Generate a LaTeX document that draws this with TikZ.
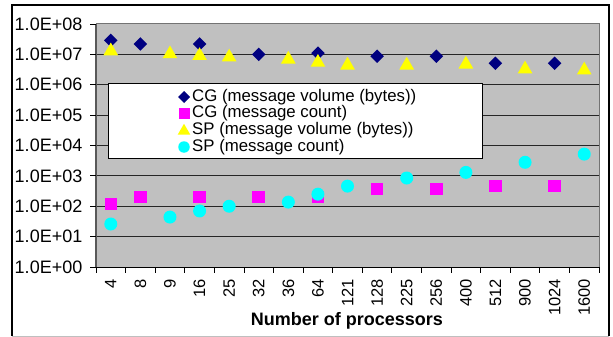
\documentclass[tikz,border=0pt]{standalone}
\usepackage{fontspec}
\setmainfont{Liberation Sans}
\usetikzlibrary{shapes.geometric}
\definecolor{plotgray}{HTML}{C0C0C0}
\definecolor{cgnavy}{HTML}{000080}
\definecolor{cgpink}{HTML}{FF00FF}
\definecolor{spyellow}{HTML}{FFFF00}
\definecolor{spcyan}{HTML}{00FFFF}
\tikzset{
  gridline/.style={draw=black!85,line width=0.9pt},
  tickline/.style={draw=black,line width=0.9pt},
  mk/.style={inner sep=0pt,outer sep=0pt,draw=none},
  cgvol/.style={mk,diamond,fill=cgnavy,minimum width=13.5pt,minimum height=13.5pt},
  cgcnt/.style={mk,rectangle,fill=cgpink,minimum size=12.5pt},
  spvol/.style={mk,regular polygon,regular polygon sides=3,fill=spyellow,minimum size=17pt},
  spcnt/.style={mk,circle,fill=spcyan,minimum size=13pt},
  ylab/.style={anchor=east,inner sep=0pt,font=\fontsize{18}{18}\selectfont},
  xlab/.style={anchor=east,rotate=90,inner sep=0pt,font=\fontsize{16.5}{17}\selectfont},
  legtext/.style={anchor=west,inner sep=0pt,font=\fontsize{16.8}{17}\selectfont},
}

\begin{document}
\begin{tikzpicture}[x=1pt,y=-1pt]
  \useasboundingbox (0,0) rectangle (613,337);
  % chart frame
  \draw[black!25,line width=1pt] (12,336) -- (609,336);
  \draw[black,line width=1.3pt] (12,336) -- (12,5) -- (609,5) -- (609,336);
  % plot area and grid (one line per decade)
  \fill[plotgray] (96,24) rectangle (599,267);
  \foreach \k in {1,...,7}
    \draw[gridline] (96,{267-30.375*\k}) -- (599,{267-30.375*\k});
  \draw[draw=black!55,line width=1pt] (96,24) -- (599,24) -- (599,267);
  \draw[draw=black!65,line width=1.2pt] (96,24) -- (96,267);
  \draw[tickline] (96,267) -- (599,267);
  % y axis
  \foreach \e in {0,...,8} {
    \draw[tickline] (90,{267-30.375*\e}) -- (96,{267-30.375*\e});
    \node[ylab] (yl\e) at (82.5,{267-30.375*\e}) {1.0E+0\e};
  }
  % x axis
  \foreach \i in {0,...,17}
    \draw[tickline] ({96+29.59*\i},267) -- ({96+29.59*\i},273);
  \foreach \n [count=\i] in {4,8,9,16,25,32,36,64,121,128,225,256,400,512,900,1024,1600}
    \node[xlab] (xl\i) at ({96+29.59*(\i-0.5)},279) {\n};
  \node[inner sep=0pt,font=\fontsize{18}{18}\selectfont\bfseries] (xtitle) at (347,321) {Number of processors};
  % legend
  \node[draw=black,fill=white,line width=0.8pt,inner sep=0pt,anchor=north west,
        minimum width=374pt,minimum height=75pt] (legend) at (108,83) {};
  \node[cgvol,minimum width=12pt,minimum height=12pt] (lg1) at (184,97) {};
  \node[cgcnt,minimum size=11pt] (lg2) at (184,113.5) {};
  \node[spvol,minimum size=14.5pt] (lg3) at (184,131) {};
  \node[spcnt,minimum size=11.5pt] (lg4) at (184,147) {};
  \node[legtext] (lt1) at (192,97) {CG (message volume (bytes))};
  \node[legtext] (lt2) at (192,113.5) {CG (message count)};
  \node[legtext] (lt3) at (192,130) {SP (message volume (bytes))};
  \node[legtext] (lt4) at (192,147) {SP (message count)};
  % data: category / mantissa / exponent
  \foreach \i/\m/\e in {1/2.9/7,2/2.2/7,4/2.2/7,6/1.0/7,8/1.1/7,10/8.7/6,12/8.7/6,14/5.1/6,16/5.1/6}
    \node[cgvol] (cv\i) at ({96+29.59*(\i-0.5)},{267-30.375*(log10(\m)+\e)}) {};
  \foreach \i/\m/\e in {1/1.18/2,2/2.0/2,4/2.0/2,6/2.0/2,8/2.0/2,10/3.7/2,12/3.7/2,14/4.6/2,16/4.6/2}
    \node[cgcnt] (cc\i) at ({96+29.59*(\i-0.5)},{267-30.375*(log10(\m)+\e)}) {};
  \foreach \i/\m/\e in {1/1.5/7,3/1.2/7,4/1.05/7,5/9.4/6,7/8.0/6,8/6.3/6,9/5.1/6,11/5.1/6,13/5.5/6,15/3.8/6,17/3.5/6}
    \node[spvol] (sv\i) at ({96+29.59*(\i-0.5)},{267-30.375*(log10(\m)+\e)+2}) {};
  \foreach \i/\m/\e in {1/2.6/1,3/4.4/1,4/7.0/1,5/1.0/2,7/1.37/2,8/2.5/2,9/4.6/2,11/8.5/2,13/1.3/3,15/2.8/3,17/5.2/3}
    \node[spcnt] (sc\i) at ({96+29.59*(\i-0.5)},{267-30.375*(log10(\m)+\e)}) {};
\end{tikzpicture}
\end{document}
